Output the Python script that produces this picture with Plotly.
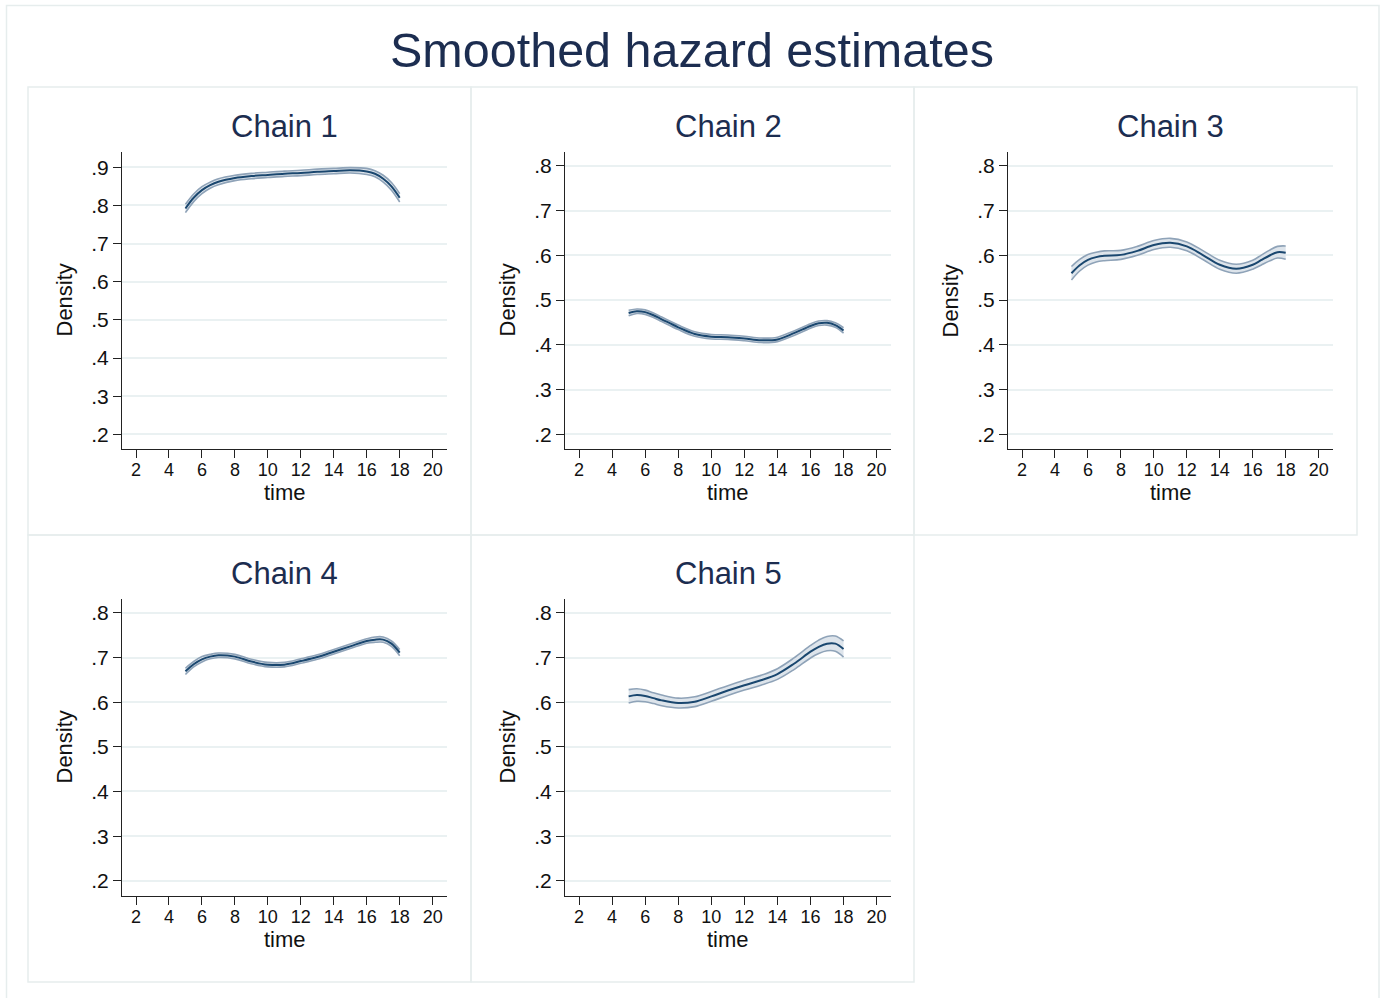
import plotly.graph_objects as go

# ---------------- data ----------------
TIME = [5, 5.5, 6, 6.5, 7, 8, 9, 10, 11, 12, 13, 14, 15, 16, 16.5, 17, 17.5, 18]

CHAIN_NAMES = ["Chain 1", "Chain 2", "Chain 3", "Chain 4", "Chain 5"]

HAZ_1 = [0.792, 0.820, 0.840, 0.853, 0.862, 0.872, 0.877, 0.880, 0.883, 0.885,
         0.888, 0.890, 0.892, 0.889, 0.883, 0.870, 0.850, 0.820]
HAZ_2 = [0.471, 0.475, 0.473, 0.466, 0.457, 0.439, 0.424, 0.418, 0.417, 0.414,
         0.410, 0.412, 0.426, 0.442, 0.448, 0.449, 0.444, 0.432]
HAZ_3 = [0.560, 0.578, 0.590, 0.596, 0.599, 0.601, 0.610, 0.623, 0.628, 0.620,
         0.600, 0.579, 0.570, 0.579, 0.589, 0.599, 0.607, 0.606]
HAZ_4 = [0.669, 0.685, 0.696, 0.702, 0.705, 0.702, 0.691, 0.684, 0.684, 0.692,
         0.701, 0.713, 0.725, 0.737, 0.740, 0.740, 0.731, 0.711]
HAZ_5 = [0.613, 0.616, 0.614, 0.609, 0.604, 0.598, 0.601, 0.613, 0.626, 0.638,
         0.649, 0.663, 0.686, 0.713, 0.724, 0.731, 0.731, 0.719]

# half-width of the confidence band
CI_1 = [0.011, 0.010, 0.009, 0.008, 0.008, 0.007, 0.007, 0.007, 0.007, 0.007,
        0.007, 0.007, 0.007, 0.008, 0.008, 0.009, 0.010, 0.011]
CI_2 = [0.006, 0.005, 0.005, 0.005, 0.005, 0.005, 0.005, 0.005, 0.005, 0.005,
        0.005, 0.005, 0.005, 0.005, 0.005, 0.005, 0.005, 0.006]
CI_3 = [0.015, 0.013, 0.012, 0.011, 0.011, 0.010, 0.010, 0.010, 0.010, 0.010,
        0.010, 0.010, 0.010, 0.010, 0.011, 0.012, 0.013, 0.015]
CI_4 = [0.007, 0.006, 0.006, 0.005, 0.005, 0.005, 0.005, 0.005, 0.005, 0.005,
        0.005, 0.005, 0.005, 0.005, 0.006, 0.006, 0.006, 0.007]
CI_5 = [0.015, 0.014, 0.013, 0.012, 0.012, 0.011, 0.011, 0.011, 0.011, 0.011,
        0.011, 0.012, 0.013, 0.014, 0.015, 0.016, 0.017, 0.018]

HAZ = [HAZ_1, HAZ_2, HAZ_3, HAZ_4, HAZ_5]
CI = [CI_1, CI_2, CI_3, CI_4, CI_5]

X_TICKS = [2, 4, 6, 8, 10, 12, 14, 16, 18, 20]
Y_TICKS_1 = [0.2, 0.3, 0.4, 0.5, 0.6, 0.7, 0.8, 0.9]
Y_LABELS_1 = [".2", ".3", ".4", ".5", ".6", ".7", ".8", ".9"]
Y_TICKS = [0.2, 0.3, 0.4, 0.5, 0.6, 0.7, 0.8]
Y_LABELS = [".2", ".3", ".4", ".5", ".6", ".7", ".8"]

TITLE = "Smoothed hazard estimates"

# ---------------- layout helpers ----------------
W, H = 1389, 998
def fx(p):
    return p / W
def fy(p):
    return 1 - p / H

FONT = "Liberation Sans, Arial, Helvetica, sans-serif"
TITLE_COLOR = "#1c2d50"
LINE_COLOR = "#1a476f"
BAND_LINE = "#8fa3b8"
BAND_FILL = "#dde4eb"
GRID = "#eaf1f2"
AXIS = "#222222"
BORDER = "#e6eded"

# plot areas in pixels: (x0, x1, ytop, ybottom)
PLOTS = [(122, 447, 152, 449), (565, 891, 152, 449), (1008, 1333, 152, 449),
         (122, 447, 599, 896), (565, 891, 599, 896)]
YRANGES = [[0.1615, 0.940], [0.167, 0.831], [0.167, 0.831], [0.166, 0.831], [0.166, 0.831]]
XRANGE = [1.15, 20.87]

# panel frames (pixels)
FRAMES = [(28, 471, 87, 535), (471, 914, 87, 535), (914, 1357, 87, 535),
          (28, 471, 535, 982), (471, 914, 535, 982)]

fig = go.Figure()
layout = {}
annotations = []
shapes = []

for i in range(5):
    n = "" if i == 0 else str(i + 1)
    xa, ya = "x" + n, "y" + n
    upper = [m + c for m, c in zip(HAZ[i], CI[i])]
    lower = [m - c for m, c in zip(HAZ[i], CI[i])]
    fig.add_trace(go.Scatter(x=TIME, y=upper, mode="lines", xaxis=xa, yaxis=ya,
                             line=dict(color=BAND_LINE, width=1.6, shape="spline"),
                             showlegend=False, hoverinfo="skip"))
    fig.add_trace(go.Scatter(x=TIME, y=lower, mode="lines", xaxis=xa, yaxis=ya,
                             line=dict(color=BAND_LINE, width=1.6, shape="spline"),
                             fill="tonexty", fillcolor=BAND_FILL,
                             showlegend=False, hoverinfo="skip"))
    fig.add_trace(go.Scatter(x=TIME, y=HAZ[i], mode="lines", xaxis=xa, yaxis=ya,
                             line=dict(color=LINE_COLOR, width=2, shape="spline"),
                             showlegend=False))

    x0, x1, yt, yb = PLOTS[i]
    yt_vals = Y_TICKS_1 if i == 0 else Y_TICKS
    yt_text = Y_LABELS_1 if i == 0 else Y_LABELS
    layout["xaxis" + n] = dict(
        domain=[fx(x0), fx(x1)], anchor=ya, range=XRANGE,
        tickvals=X_TICKS, ticks="outside", ticklen=8, tickwidth=1.3, tickcolor=AXIS,
        showline=True, linecolor=AXIS, linewidth=1.3, showgrid=False, zeroline=False,
        ticklabelstandoff=-4,
        tickfont=dict(family=FONT, size=18, color="#111111"),
    )
    layout["yaxis" + n] = dict(
        domain=[fy(yb), fy(yt)], anchor=xa, range=YRANGES[i],
        tickvals=yt_vals, ticktext=yt_text, ticks="outside", ticklen=8, tickwidth=1.3,
        tickcolor=AXIS, showline=True, linecolor=AXIS, linewidth=1.3,
        showgrid=True, gridcolor=GRID, gridwidth=1.6, zeroline=False,
        tickfont=dict(family=FONT, size=21, color="#111111"),
    )

    cx = (x0 + x1) / 2
    # panel title
    annotations.append(dict(text=CHAIN_NAMES[i], x=fx(cx), y=fy(yt - 26), xref="paper", yref="paper",
                            xanchor="center", yanchor="middle", showarrow=False,
                            font=dict(family=FONT, size=31, color=TITLE_COLOR)))
    # x title
    annotations.append(dict(text="time", x=fx(cx), y=fy(yb + 43), xref="paper", yref="paper",
                            xanchor="center", yanchor="middle", showarrow=False,
                            font=dict(family=FONT, size=22, color="#111111")))
    # y title
    annotations.append(dict(text="Density", x=fx(x0 - 58), y=fy((yt + yb) / 2), xref="paper",
                            yref="paper", xanchor="center", yanchor="middle", showarrow=False,
                            textangle=-90, font=dict(family=FONT, size=22, color="#111111")))

    fx0, fx1, fyt, fyb = FRAMES[i]
    shapes.append(dict(type="rect", xref="paper", yref="paper", x0=fx(fx0), x1=fx(fx1),
                       y0=fy(fyb), y1=fy(fyt), line=dict(color=BORDER, width=1.5),
                       layer="below"))

# outer frame
shapes.append(dict(type="rect", xref="paper", yref="paper", x0=fx(6.5), x1=fx(1379),
                   y0=fy(1003), y1=fy(5.5), line=dict(color=BORDER, width=1.5), layer="below"))

annotations.append(dict(text=TITLE, x=fx(692), y=fy(50), xref="paper", yref="paper",
                        xanchor="center", yanchor="middle", showarrow=False,
                        font=dict(family=FONT, size=48.5, color=TITLE_COLOR)))

fig.update_layout(
    width=W, height=H, margin=dict(l=0, r=0, t=0, b=0),
    paper_bgcolor="white", plot_bgcolor="white",
    annotations=annotations, shapes=shapes, showlegend=False,
    **layout,
)

fig.write_html("out.html")
